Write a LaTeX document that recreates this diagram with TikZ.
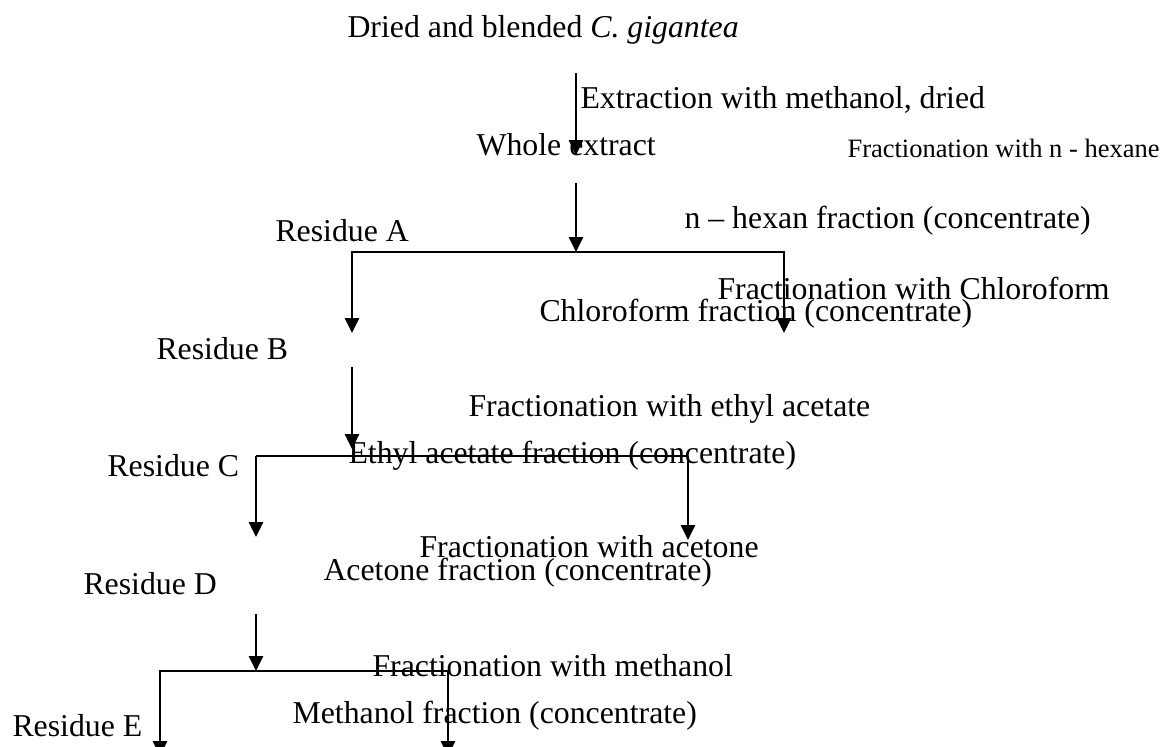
\documentclass[tikz,border=0pt]{standalone}
\usepackage{fontspec}
\setmainfont{Liberation Serif}
\usepackage{tikz}
\usetikzlibrary{arrows.meta, positioning}

\begin{document}
\begin{tikzpicture}[
    x=0.3774pt, y=-0.3774pt,
    lbl/.style={anchor=base west, inner sep=0pt, font=\fontsize{12}{14}\selectfont},
    lblsmall/.style={lbl, font=\fontsize{10}{12}\selectfont},
    arrow/.style={-{Triangle[length=5.6pt, width=5.3pt]}, line width=0.75pt},
    link/.style={line width=0.75pt}
]
    \useasboundingbox (0,0) rectangle (1163,746);

    % Top
    \node[lbl] (dried) at (347,37) {Dried and blended \textit{C. gigantea}};
    \node[lbl] (extract) at (580,108) {Extraction with methanol, dried};
    \node[lbl] (whole) at (476,155) {Whole extract};
    \node[lblsmall] (frhexane) at (847,157) {Fractionation with n - hexane};

    % Residue A level
    \node[lbl] (resA) at (275,241) {Residue A};
    \node[lbl] (hexfrac) at (684,228) {n -- hexan fraction (concentrate)};
    \node[lbl] (frchloro) at (717,299) {Fractionation with Chloroform};
    \node[lbl] (chlorofrac) at (539,321) {Chloroform fraction (concentrate)};

    % Residue B level
    \node[lbl] (resB) at (156,359) {Residue B};
    \node[lbl] (fretac) at (468,416) {Fractionation with ethyl acetate};
    \node[lbl] (etacfrac) at (348,463) {Ethyl acetate fraction (concentrate)};
    \node[lbl] (resC) at (107,476) {Residue C};

    % Residue D level
    \node[lbl] (fracetone) at (419,557) {Fractionation with acetone};
    \node[lbl] (acetfrac) at (323,580) {Acetone fraction (concentrate)};
    \node[lbl] (resD) at (83,594) {Residue D};

    % Residue E level
    \node[lbl] (frmeth) at (372,676) {Fractionation with methanol};
    \node[lbl] (methfrac) at (292,723) {Methanol fraction (concentrate)};
    \node[lbl] (resE) at (12,736) {Residue E};

    % Connector points
    \coordinate (s1) at (576,73);
    \coordinate (e1) at (576,155);
    \coordinate (s2) at (576,183);
    \coordinate (jA) at (576,252);
    \coordinate (tAl) at (352,333);
    \coordinate (tAr) at (784,333);
    \coordinate (s3) at (352,367);
    \coordinate (e3) at (352,449);
    \coordinate (jCl) at (256,456);
    \coordinate (jCr) at (688,456);
    \coordinate (tCl) at (256,537);
    \coordinate (tCr) at (688,540);
    \coordinate (s4) at (256,614);
    \coordinate (jE) at (256,671);
    \coordinate (tEl) at (160,756);
    \coordinate (tEr) at (448,756);

    % Connections
    \draw[arrow] (s1) -- (e1);
    \draw[arrow] (s2) -- (jA);
    \draw[arrow] (jA) -| (tAl);
    \draw[arrow] (jA) -| (tAr);
    \draw[arrow] (s3) -- (e3);
    \draw[link] (jCl) -- (jCr);
    \draw[arrow] (jCl) -- (tCl);
    \draw[arrow] (jCr) -- (tCr);
    \draw[arrow] (s4) -- (jE);
    \draw[arrow] (jE) -| (tEl);
    \draw[arrow] (jE) -| (tEr);
\end{tikzpicture}
\end{document}
